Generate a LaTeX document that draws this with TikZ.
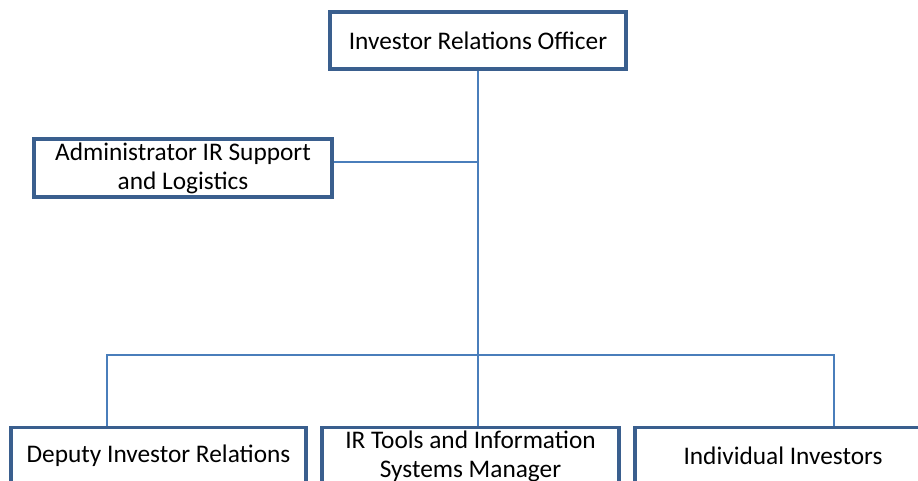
\documentclass[tikz,border=0pt]{standalone}
\usepackage{fontspec}
\setmainfont{Carlito}
\usepackage{tikz}

\definecolor{boxline}{HTML}{3A5F8E}
\definecolor{linkline}{HTML}{4A7EBB}

\tikzset{
  post/.style = {draw = boxline, line width = 2.4pt, fill = white,
    minimum width = 296*0.75pt, minimum height = 57*0.75pt,
    inner sep = 0pt, align = center, font = \fontsize{19}{21.8}\selectfont},
  link/.style = {draw = linkline, line width = 0.8pt}
}

\begin{document}
\begin{tikzpicture}[x = 0.75pt, y = -0.75pt]
\useasboundingbox (0, 0) rectangle (918, 481);
\clip (0, 0) rectangle (918, 481);

% junction points of the reporting lines
\coordinate (adm) at (478, 162);
\coordinate (dl) at (107, 355);
\coordinate (dr) at (834, 355);

% posts
\node (iro) [post] at (478, 40.5) {Investor Relations Officer};
\node (admin) [post, minimum width = 298*0.75pt, minimum height = 58*0.75pt] at (183, 168)
  {Administrator IR Support\\and Logistics};
\node (deputy) [post, minimum width = 295*0.75pt] at (158.5, 456) {Deputy Investor Relations};
\node (tools) [post, minimum width = 297*0.75pt] at (470.5, 456) {IR Tools and Information\\Systems Manager};
\node (indiv) [post] at (783, 456) {Individual Investors};

% reporting lines
\draw [link] (iro.south) -- (iro.south |- tools.north);
\draw [link] (adm) -- (adm -| admin.east);
\draw [link] (dl |- deputy.north) -- (dl) -- (dr) -- (dr |- indiv.north);
\end{tikzpicture}
\end{document}
